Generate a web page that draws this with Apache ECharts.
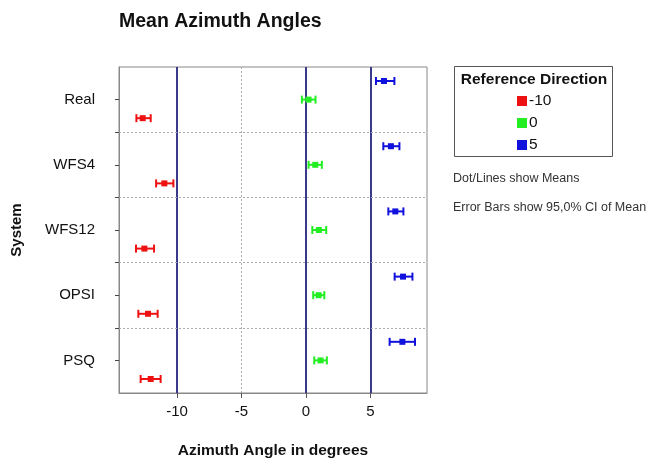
<!DOCTYPE html>
<html>
<head>
<meta charset="utf-8">
<script src="https://cdn.jsdelivr.net/npm/echarts@6/dist/echarts.min.js"></script>
<style>html,body{margin:0;padding:0;background:#fff}#c{width:648px;height:464px}</style>
</head>
<body>
<div id="c"></div>
<script>
var systems = ['Real', 'WFS4', 'WFS12', 'OPSI', 'PSQ'];
var directions = ['-10', '0', '5'];
var xTicks = [-10, -5, 0, 5];

var meanM10 = [-12.66, -10.98, -12.53, -12.25, -12.04];
var lowM10  = [-13.15, -11.62, -13.18, -13.00, -12.82];
var highM10 = [-12.04, -10.28, -11.78, -11.50, -11.27];

var mean0 = [0.21, 0.73, 1.01, 0.99, 1.14];
var low0  = [-0.31, 0.21, 0.50, 0.57, 0.65];
var high0 = [0.75, 1.24, 1.58, 1.43, 1.63];

var mean5 = [6.06, 6.60, 6.94, 7.54, 7.49];
var low5  = [5.44, 6.01, 6.40, 6.89, 6.50];
var high5 = [6.87, 7.26, 7.57, 8.27, 8.47];

var colors = ['#ee1111', '#22ee22', '#1111dd'];
var offsets = [0.57, 0, -0.57];
var groups = [[meanM10, lowM10, highM10], [mean0, low0, high0], [mean5, low5, high5]];

function renderErr(params, api) {
  var m = api.coord([api.value(0), api.value(3)]);
  var lo = api.coord([api.value(1), api.value(3)]);
  var hi = api.coord([api.value(2), api.value(3)]);
  var col = api.visual('color');
  var cap = 4, s = 3;
  var st = {stroke: col, lineWidth: 2};
  return {type: 'group', children: [
    {type: 'line', shape: {x1: lo[0], y1: lo[1], x2: hi[0], y2: hi[1]}, style: st},
    {type: 'line', shape: {x1: lo[0], y1: lo[1]-cap, x2: lo[0], y2: lo[1]+cap}, style: st},
    {type: 'line', shape: {x1: hi[0], y1: hi[1]-cap, x2: hi[0], y2: hi[1]+cap}, style: st},
    {type: 'rect', shape: {x: m[0]-s, y: m[1]-s, width: 2*s, height: 2*s}, style: {fill: col}}
  ]};
}

var series = directions.map(function (d, k) {
  var g = groups[k];
  return {
    name: d, type: 'custom', renderItem: renderErr,
    itemStyle: {color: colors[k]},
    encode: {x: [0, 1, 2], y: 3},
    data: systems.map(function (s, i) { return [g[0][i], g[1][i], g[2][i], 2*i+1+offsets[k]]; }),
    z: 5
  };
});

series.push({
  type: 'line', data: [], silent: true,
  markLine: {
    symbol: 'none', silent: true, label: {show: false},
    data: [
      {xAxis: -10, lineStyle: {color: '#3a3a8a', width: 2, type: 'solid'}},
      {xAxis: 0, lineStyle: {color: '#3a3a8a', width: 2, type: 'solid'}},
      {xAxis: 5, lineStyle: {color: '#3a3a8a', width: 2, type: 'solid'}},
      {xAxis: -5, lineStyle: {color: '#aaaaaa', width: 1, type: [2, 2]}},
      {yAxis: 2, lineStyle: {color: '#aaaaaa', width: 1, type: [2, 2]}},
      {yAxis: 4, lineStyle: {color: '#aaaaaa', width: 1, type: [2, 2]}},
      {yAxis: 6, lineStyle: {color: '#aaaaaa', width: 1, type: [2, 2]}},
      {yAxis: 8, lineStyle: {color: '#aaaaaa', width: 1, type: [2, 2]}}
    ]
  }
});

var chart = echarts.init(document.getElementById('c'), null, {renderer: 'canvas'});
chart.setOption({
  animation: false,
  backgroundColor: '#fff',
  title: {text: 'Mean Azimuth Angles', left: 114, top: 7,
    textStyle: {fontFamily: 'Liberation Sans', fontSize: 19.5, fontWeight: 'bold', color: '#111'}},
  grid: {left: 119, right: 221, top: 67, bottom: 67, show: true, borderColor: '#888', borderWidth: 1},
  xAxis: {
    type: 'value', min: -14.5, max: 9.4,
    name: 'Azimuth Angle in degrees', nameLocation: 'middle', nameGap: 50,
    nameTextStyle: {fontFamily: 'Liberation Sans', fontSize: 15.5, fontWeight: 'bold', color: '#111'},
    axisLine: {show: true, onZero: false, lineStyle: {color: '#888'}},
    axisTick: {show: true, customValues: xTicks, length: 5, lineStyle: {color: '#555'}},
    axisLabel: {customValues: xTicks, margin: 11, fontFamily: 'Liberation Sans', fontSize: 15, color: '#111'},
    splitLine: {show: false}
  },
  yAxis: {
    type: 'value', min: 0, max: 10, inverse: true,
    name: 'System', nameLocation: 'middle', nameGap: 95, nameRotate: 90,
    nameTextStyle: {fontFamily: 'Liberation Sans', fontSize: 15, fontWeight: 'bold', color: '#111'},
    axisLine: {show: true, onZero: false, lineStyle: {color: '#888'}},
    axisTick: {show: true, customValues: [1, 2, 3, 4, 5, 6, 7, 8, 9], length: 4, lineStyle: {color: '#444'}},
    axisLabel: {customValues: [1, 3, 5, 7, 9], margin: 24, fontFamily: 'Liberation Sans', fontSize: 15, color: '#111',
      formatter: function (v) { return systems[Math.round((v - 1) / 2)]; }},
    splitLine: {show: false}
  },
  legend: {
    data: directions, orient: 'vertical', left: 517, top: 93, padding: 0,
    itemWidth: 10, itemHeight: 10, itemGap: 6, icon: 'rect',
    textStyle: {fontFamily: 'Liberation Sans', fontSize: 15.5, color: '#111', padding: [0, 0, 0, -3]}
  },
  graphic: [
    {type: 'rect', shape: {x: 454.5, y: 66.5, width: 158, height: 90}, style: {fill: 'none', stroke: '#555', lineWidth: 1}},
    {type: 'text', x: 534, y: 80, style: {text: 'Reference Direction', fontFamily: 'Liberation Sans', fontSize: 15.5, fontWeight: 'bold', fill: '#111', align: 'center', verticalAlign: 'middle'}},
    {type: 'text', x: 453, y: 179, style: {text: 'Dot/Lines show Means', fontFamily: 'Liberation Sans', fontSize: 12.5, fill: '#333', verticalAlign: 'middle'}},
    {type: 'text', x: 453, y: 208, style: {text: 'Error Bars show 95,0% CI of Mean', fontFamily: 'Liberation Sans', fontSize: 12.5, fill: '#333', verticalAlign: 'middle'}}
  ],
  series: series
});
</script>
</body>
</html>
